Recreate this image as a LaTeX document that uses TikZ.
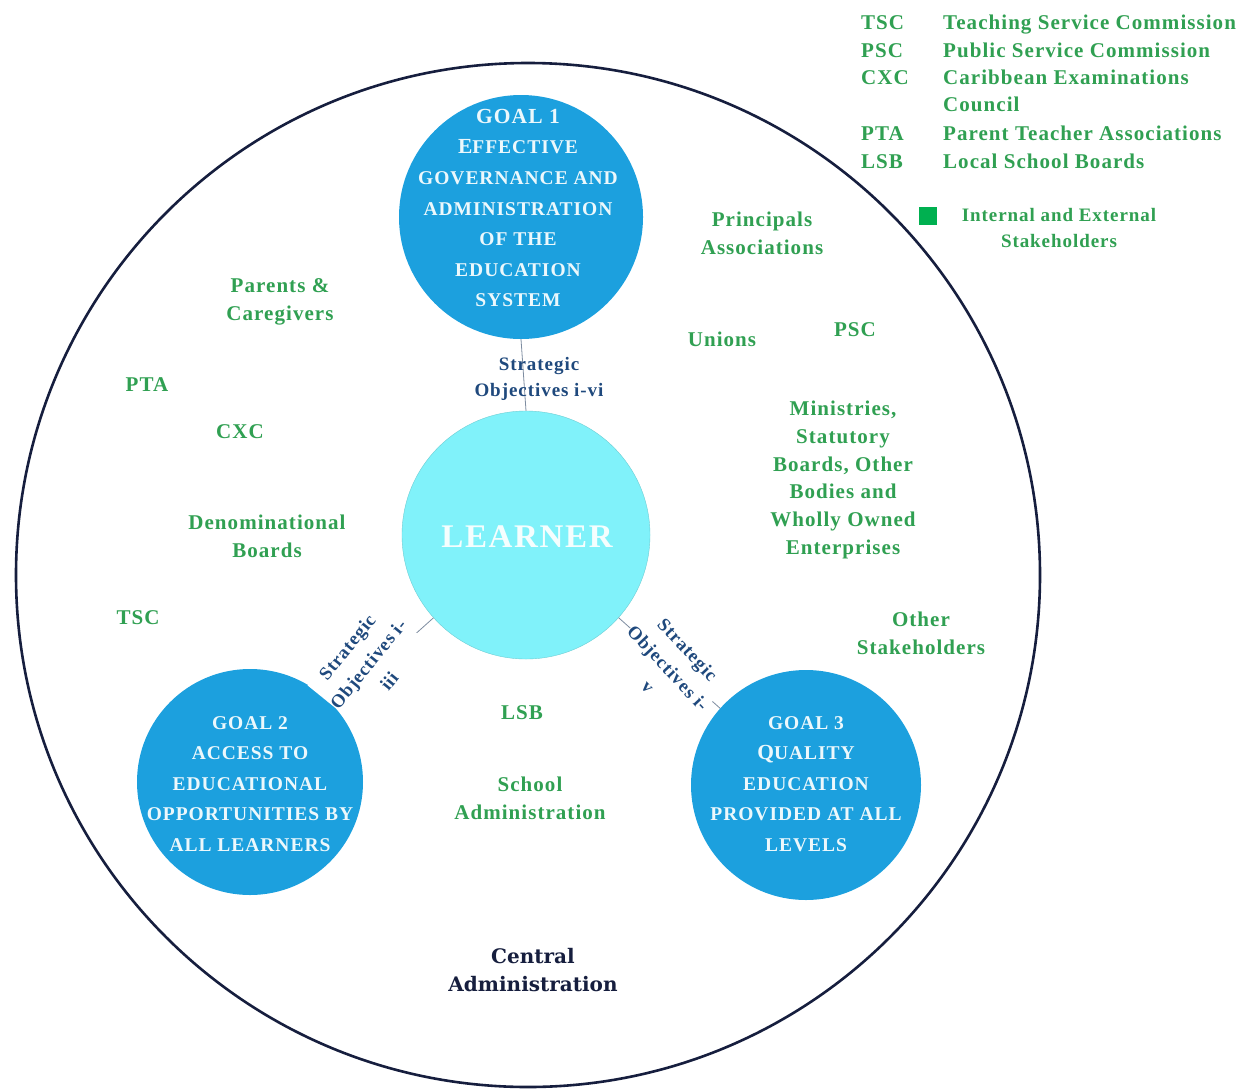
\documentclass[tikz,border=0pt]{standalone}
\usepackage{fontspec}
\setmainfont{Liberation Serif}[LetterSpace=5]
\newfontfamily\cadminfont{DejaVu Serif}
\definecolor{goalblue}{RGB}{28,160,222}
\definecolor{learnercyan}{RGB}{128,242,250}
\definecolor{stkgreen}{RGB}{48,160,82}
\definecolor{sqgreen}{RGB}{0,176,80}
\definecolor{stratblue}{RGB}{31,73,125}
\definecolor{linkgray}{RGB}{125,140,160}
\definecolor{navy}{RGB}{22,30,62}
\definecolor{goaltext}{RGB}{236,248,252}
\begin{document}
\begin{tikzpicture}[x=1pt,y=-1pt,
  bigc/.style={circle,inner sep=0pt,draw=navy,line width=2.6pt},
  goalc/.style={circle,inner sep=0pt,fill=goalblue},
  learnc/.style={circle,inner sep=0pt,fill=learnercyan,draw=learnercyan!85!black,line width=0.4pt},
  goaltxt/.style={align=center,text=goaltext,font=\bfseries\fontsize{19.5}{30.6}\selectfont,inner sep=0pt},
  stk/.style={align=center,text=stkgreen,font=\bfseries\fontsize{21}{27.8}\selectfont,inner sep=0pt},
  legab/.style={anchor=base west,text=stkgreen,font=\bfseries\fontsize{21}{27}\selectfont,inner sep=0pt},
  strat/.style={align=center,text=stratblue,font=\bfseries\fontsize{19}{26}\selectfont,inner sep=1pt},
  rstrat/.style={strat,fill=white,inner sep=0pt,font=\bfseries\fontsize{18.5}{27}\selectfont},
  link/.style={draw=linkgray,line width=0.8pt}
]
\useasboundingbox (0,0) rectangle (1252,1090);
\fill[white] (0,0) rectangle (1252,1090);

% outer circle
\node[bigc,minimum size=1024pt] (outer) at (528,575) {};

% goal circles and learner
\node[goalc,minimum size=244pt] (g1) at (521,217) {};
\node[learnc,minimum size=248pt] (lr) at (526,535) {};
\node[goalc,minimum size=226pt] (g2) at (250,782) {};
\node[goalc,minimum size=230pt] (g3) at (806,785) {};

% connectors
\draw[link] (g1.south) -- (lr.north);
\draw[link] (g2) -- (lr);
\draw[link] (g3) -- (lr);

% goal texts
\node[goaltxt] (g1t) at (518,208) {{\fontsize{21.5}{30.6}\selectfont GOAL 1}\\
  {\fontsize{21.5}{30.6}\selectfont E}FFECTIVE\\ GOVERNANCE AND\\ ADMINISTRATION\\ OF THE\\ EDUCATION\\ SYSTEM};
\node[goaltxt] (g2t) at (250,784) {GOAL 2\\ ACCESS TO\\ EDUCATIONAL\\ OPPORTUNITIES BY\\ ALL LEARNERS};
\node[goaltxt] (g3t) at (806,784) {GOAL 3\\ {\fontsize{21.5}{30.6}\selectfont Q}UALITY\\ EDUCATION\\ PROVIDED AT ALL\\ LEVELS};

\node[text=white!92!learnercyan,font=\bfseries\fontsize{33}{36}\selectfont,inner sep=0pt] (lrt) at (527,537) {LEARNER};

% strategic objectives labels
\node[strat] (s1) at (539,379) {Strategic\\ Objectives i-vi};
\node[rstrat,rotate=51] (s2) at (368,664) {Strategic\\ Objectives i-\\ iii};
\node[rstrat,rotate=-47] (s3) at (668,668) {Strategic\\ Objectives i-\\ v};

% stakeholders
\node[stk] (pa) at (762,233) {Principals\\ Associations};
\node[stk] (pc) at (280,302) {Parents \&\\ Caregivers};
\node[stk] (un) at (722,339) {Unions};
\node[stk] (psc) at (855,330) {PSC};
\node[stk] (pta) at (147,385) {PTA};
\node[stk] (cxc) at (240,432) {CXC};
\node[stk] (min) at (843,480) {Ministries,\\ Statutory\\ Boards, Other\\ Bodies and\\ Wholly Owned\\ Enterprises};
\node[stk] (den) at (267,536) {Denominational\\ Boards};
\node[stk] (tsc) at (138,618) {TSC};
\node[stk] (oth) at (921,633) {Other\\ Stakeholders};
\node[stk] (lsb) at (522,713) {LSB};
\node[stk] (sch) at (530,798) {School\\ Administration};

\node[align=center,text=navy,font=\cadminfont\bfseries\fontsize{20}{28}\selectfont,inner sep=0pt] (cad) at (533,970) {Central\\ Administration};

% legend
\node[legab] (la1) at (861,29) {TSC};
\node[legab] (lb1) at (943,29) {Teaching Service Commission};
\node[legab] (la2) at (861,57) {PSC};
\node[legab] (lb2) at (943,57) {Public Service Commission};
\node[legab] (la3) at (861,84) {CXC};
\node[legab] (lb3) at (943,84) {Caribbean Examinations};
\node[legab] (lb3b) at (943,111) {Council};
\node[legab] (la4) at (861,140) {PTA};
\node[legab] (lb4) at (943,140) {Parent Teacher Associations};
\node[legab] (la5) at (861,168) {LSB};
\node[legab] (lb5) at (943,168) {Local School Boards};

\node[fill=sqgreen,minimum size=18pt,inner sep=0pt] (sq) at (928,216) {};
\node[stk,font=\bfseries\fontsize{19}{26}\selectfont] (ie) at (1059,228) {Internal and External\\ Stakeholders};
\end{tikzpicture}
\end{document}
